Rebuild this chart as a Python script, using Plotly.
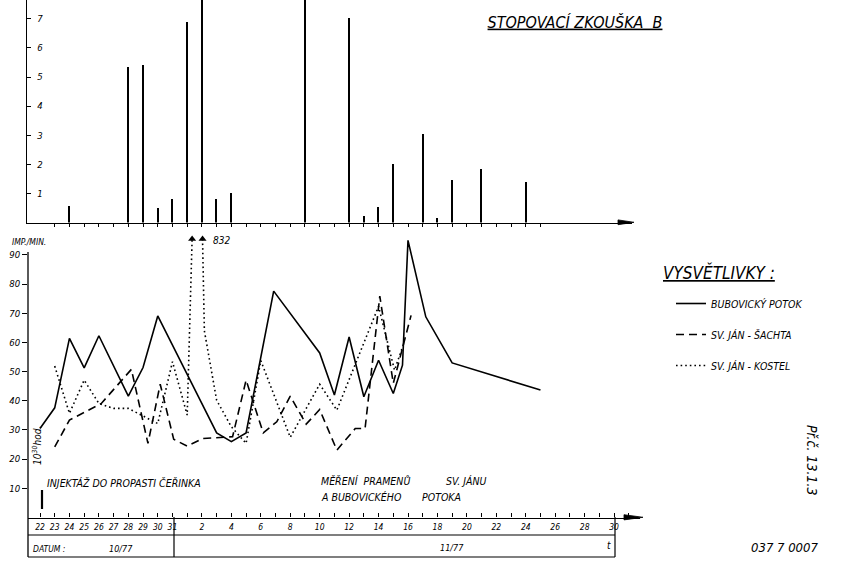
import plotly.graph_objects as go
import pandas as pd

W, H = 855, 573
FONT = "DejaVu Sans Condensed, Liberation Sans Narrow, DejaVu Sans, sans-serif"

# ---------------- data ----------------
# upper panel (pulse counts, scale 0-7)
BAR_DATES = ["1977-10-24", "1977-10-28", "1977-10-29", "1977-10-30", "1977-10-31",
             "1977-11-01", "1977-11-02", "1977-11-03", "1977-11-04", "1977-11-09",
             "1977-11-12", "1977-11-13", "1977-11-14", "1977-11-15", "1977-11-17",
             "1977-11-18", "1977-11-19", "1977-11-21", "1977-11-24"]
BAR_VALUES = [0.55, 5.35, 5.42, 0.5, 0.81,
              6.89, 9.0, 0.8, 1.0, 9.0,
              7.04, 0.22, 0.52, 2.0, 3.05,
              0.17, 1.45, 1.85, 1.4]

# lower panel, IMP./MIN.
BUB_NAME = "BUBOVICKÝ POTOK"
BUB_DATES = ["1977-10-22", "1977-10-23", "1977-10-24", "1977-10-25", "1977-10-26",
             "1977-10-28", "1977-10-29", "1977-10-30", "1977-11-03", "1977-11-04",
             "1977-11-05", "1977-11-06 21:00", "1977-11-10", "1977-11-11", "1977-11-12",
             "1977-11-13", "1977-11-14", "1977-11-15", "1977-11-15 15:00", "1977-11-16",
             "1977-11-17 05:00", "1977-11-19", "1977-11-25"]
BUB_VALUES = [30.5, 37.6, 61.4, 51.3, 62.3,
              41.6, 51.4, 69.1, 29.0, 26.0,
              29.0, 77.6, 56.4, 42.0, 61.9,
              41.4, 53.9, 42.5, 52.2, 95.0,
              68.8, 53.0, 43.7]

SAC_NAME = "SV. JÁN - ŠACHTA"
SAC_DATES = ["1977-10-23", "1977-10-24", "1977-10-26 04:00", "1977-10-28 05:00", "1977-10-29 08:00",
             "1977-10-30 04:00", "1977-10-31 02:00", "1977-11-01", "1977-11-02 02:00", "1977-11-04 02:00",
             "1977-11-05", "1977-11-06 04:00", "1977-11-07 02:00", "1977-11-08", "1977-11-09 02:00",
             "1977-11-10", "1977-11-11 04:00", "1977-11-12 10:00", "1977-11-13 02:00", "1977-11-14 02:00",
             "1977-11-15", "1977-11-16 05:00"]
SAC_VALUES = [24.2, 33.4, 39.1, 50.8, 25.4,
              45.7, 26.8, 24.5, 27.1, 27.7,
              47.1, 29.0, 32.8, 41.6, 32.0,
              37.0, 23.1, 30.5, 30.5, 75.9,
              46.0, 69.3]

KOS_NAME = "SV. JÁN - KOSTEL"
KOS_PEAK_LABEL = "832"      # off-scale value, drawn as arrows
OFF_SCALE = 95.5            # where the off-scale arrows stop
KOS_DATES = ["1977-10-23", "1977-10-24", "1977-10-25", "1977-10-26", "1977-10-27",
             "1977-10-28", "1977-10-30", "1977-10-31", "1977-11-01", "1977-11-01 08:00",
             "1977-11-01 16:00", "1977-11-02 01:00", "1977-11-02 04:00", "1977-11-03", "1977-11-04",
             "1977-11-05", "1977-11-06", "1977-11-08", "1977-11-10", "1977-11-11 04:00",
             "1977-11-14", "1977-11-15 02:00", "1977-11-15 17:00"]
KOS_VALUES = [51.9, 35.7, 47.1, 39.1, 37.4,
              37.4, 32.2, 53.4, 35.1, OFF_SCALE,
              None, OFF_SCALE, 64.0, 40.2, 31.1,
              25.4, 53.8, 27.5, 45.7, 36.8,
              72.4, 50.5, 59.6]

Y_TICKS_BOTTOM = [10, 20, 30, 40, 50, 60, 70, 80, 90]
Y_TICKS_TOP = [1, 2, 3, 4, 5, 6, 7]
OCT_TICKS = ["1977-10-22", "1977-10-23", "1977-10-24", "1977-10-25", "1977-10-26",
             "1977-10-27", "1977-10-28", "1977-10-29", "1977-10-30", "1977-10-31"]
OCT_LABELS = ["22", "23", "24", "25", "26", "27", "28", "29", "30", "31"]
NOV_TICKS = ["1977-11-02", "1977-11-04", "1977-11-06", "1977-11-08", "1977-11-10",
             "1977-11-12", "1977-11-14", "1977-11-16", "1977-11-18", "1977-11-20",
             "1977-11-22", "1977-11-24", "1977-11-26", "1977-11-28", "1977-11-30"]
NOV_LABELS = ["2", "4", "6", "8", "10", "12", "14", "16", "18", "20", "22", "24", "26", "28", "30"]

# ---------------- geometry helpers ----------------
BASE = pd.Timestamp("1977-10-22")
PX_DAY = 14.72
PX_D0 = 40.0
DAY_MS = 86400000


def px2date(px):
    return (BASE + pd.Timedelta(days=(px - PX_D0) / PX_DAY)).strftime("%Y-%m-%d %H:%M:%S")


def X(px):
    return px / W


def Y(py):
    return 1 - py / H


top_tick_dates = [d.strftime("%Y-%m-%d") for d in pd.date_range("1977-10-22", "1977-11-25")]

fig = go.Figure()

fig.add_trace(go.Bar(x=BAR_DATES, y=BAR_VALUES, width=0.09 * DAY_MS,
                     marker=dict(color="black", line=dict(width=0)),
                     xaxis="x2", yaxis="y2", showlegend=False))

line_w = 1.6
fig.add_trace(go.Scatter(x=BUB_DATES, y=BUB_VALUES, mode="lines", name=BUB_NAME,
                         line=dict(color="black", width=line_w), legendgroup="a"))
fig.add_trace(go.Scatter(x=SAC_DATES, y=SAC_VALUES, mode="lines", name=SAC_NAME,
                         line=dict(color="black", width=line_w, dash="8px,5px"), legendgroup="b"))
fig.add_trace(go.Scatter(x=KOS_DATES, y=KOS_VALUES, mode="lines", name=KOS_NAME,
                         line=dict(color="black", width=line_w, dash="1.6px,3px"), legendgroup="c",
                         connectgaps=False))
tips = [d for d, v in zip(KOS_DATES, KOS_VALUES) if v == OFF_SCALE]
fig.add_trace(go.Scatter(x=tips, y=[OFF_SCALE] * len(tips), mode="markers",
                         marker=dict(symbol="triangle-up", size=7, color="black"),
                         cliponaxis=False, showlegend=False))

tf = dict(family=FONT, size=9.5, color="black", style="italic")

fig.update_layout(
    width=W, height=H, margin=dict(l=0, r=0, t=0, b=0),
    paper_bgcolor="white", plot_bgcolor="white",
    font=dict(family=FONT, color="black", style="italic"),
    bargap=0,
    xaxis=dict(type="date", domain=[X(28), X(640)], range=[px2date(28), px2date(640)],
               anchor="y", showline=True, linecolor="black", linewidth=1.3,
               ticks="inside", ticklen=4, tickcolor="black", tickwidth=1,
               tickvals=OCT_TICKS + NOV_TICKS, ticktext=OCT_LABELS + NOV_LABELS,
               tickfont=dict(tf, size=8.5), ticklabelstandoff=1,
               minor=dict(ticks="inside", ticklen=4, tickcolor="black", dtick=DAY_MS,
                          tick0="1977-10-22", showgrid=False),
               showgrid=False, zeroline=False),
    yaxis=dict(domain=[Y(517.5), Y(237)], range=[0, (517.5 - 237) / 2.917], anchor="x",
               showline=False, ticks="outside", ticklen=5, tickcolor="black",
               tickvals=Y_TICKS_BOTTOM, tickfont=tf, showgrid=False, zeroline=False),
    xaxis2=dict(type="date", domain=[X(27), X(632)], range=[px2date(27), px2date(632)],
                anchor="y2", showline=True, linecolor="black", linewidth=1.3,
                ticks="outside", ticklen=3, tickcolor="black", tickvals=top_tick_dates,
                showticklabels=False, showgrid=False, zeroline=False),
    yaxis2=dict(domain=[Y(222.5), 1], range=[0, 222.5 / 29.1], anchor="x2",
                showline=True, linecolor="black", linewidth=1.3,
                ticks="inside", ticklen=4, tickcolor="black", ticklabelposition="inside",
                ticklabelstandoff=5,
                tickvals=Y_TICKS_TOP, tickfont=tf, showgrid=False, zeroline=False),
    title=dict(text="<u>STOPOVACÍ ZKOUŠKA&nbsp;&nbsp;B</u>", x=X(575), y=Y(22),
               xanchor="center", yanchor="middle", xref="paper", yref="paper",
               font=dict(family=FONT, size=16, color="black", style="italic")),
    legend=dict(x=X(671), y=Y(289), xanchor="left", yanchor="top",
                font=dict(tf, size=10.5), tracegroupgap=12, itemwidth=30,
                bgcolor="rgba(0,0,0,0)"),
)


def ann(text, x, y, size=9, angle=0, xanchor="center"):
    return dict(text=text, x=X(x), y=Y(y), xref="paper", yref="paper", showarrow=False,
                font=dict(family=FONT, size=size, color="black", style="italic"),
                textangle=angle, xanchor=xanchor, yanchor="middle")


annotations = [
    ann("<u>VYSVĚTLIVKY :</u>", 661, 272, 17, xanchor="left"),
    ann("IMP./MIN.", 10, 242, 8.5, xanchor="left"),
    ann(KOS_PEAK_LABEL, 222, 240, 10),
    ann("10<sup>30</sup>hod.", 37, 446, 10, angle=-90),
    ann("INJEKTÁŽ DO PROPASTI ČEŘINKA", 45, 483, 10.5, xanchor="left"),
    ann("MĚŘENÍ&nbsp; PRAMENŮ", 319, 481, 10.5, xanchor="left"),
    ann("SV. JÁNU", 444, 481, 10.5, xanchor="left"),
    ann("A BUBOVICKÉHO", 319, 497, 10.5, xanchor="left"),
    ann("POTOKA", 420, 497, 10.5, xanchor="left"),
    ann("DATUM :", 31, 549, 8.5, xanchor="left"),
    ann("10/77", 121, 549, 9),
    ann("11/77", 452, 548, 9),
    ann("t", 609, 545, 10),
    ann("Př.č. 13.1.3", 812, 460, 14, angle=90),
    ann("037 7 0007", 785, 547, 13),
]
fig.update_layout(annotations=annotations)


def seg(x0, y0, x1, y1, w=1.2):
    return dict(type="line", xref="paper", yref="paper", x0=X(x0), y0=Y(y0), x1=X(x1), y1=Y(y1),
                line=dict(color="black", width=w))


def wedge(x0, x1, yc, half):
    path = "M{:.5f},{:.5f} L{:.5f},{:.5f} L{:.5f},{:.5f} Z".format(
        X(x0), Y(yc - half), X(x1), Y(yc), X(x0), Y(yc + half))
    return dict(type="path", xref="paper", yref="paper", path=path,
                fillcolor="black", line=dict(color="black", width=0.8))


fig.update_layout(shapes=[
    seg(28, 252, 28, 557, 1.3),      # lower y-axis, continuing into the date box
    seg(28, 535, 615, 535),
    seg(28, 557, 615, 557),
    seg(174, 517, 174, 557),
    seg(615, 517, 615, 557),
    seg(42, 490, 42, 509, 2.2),      # injection mark
    wedge(624, 643, 517.3, 2.6),     # axis arrow heads
    wedge(618, 634, 222.3, 2.4),
])

fig.write_html("out.html", config={"displayModeBar": False},
               post_script="document.body.style.margin='0';document.body.style.overflow='hidden';")
